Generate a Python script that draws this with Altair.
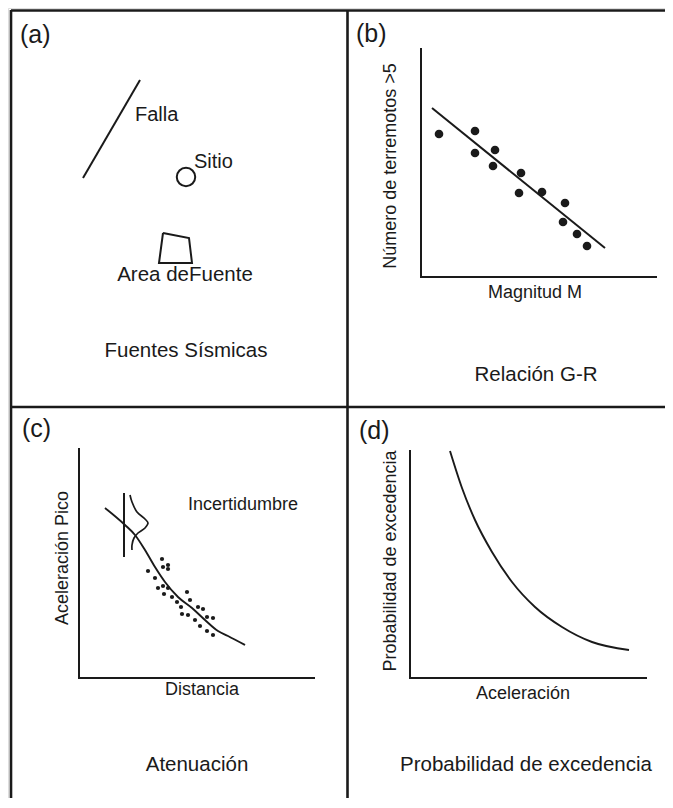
import altair as alt
import pandas as pd

FONT = "Liberation Sans"
INK = "#1a1a1a"

# ---------------- frame (figure units = pixels of the original figure) -------------
frame_x1 = [11, 11, 347.5, 11]
frame_x2 = [665, 11, 347.5, 665]
frame_y1 = [10.5, 10, 10, 407]
frame_y2 = [10.5, 800, 800, 407]

# ---------------- panel (a): seismic sources ----------------
falla_x = [83, 140]
falla_y = [178, 80]
area_x = [163, 189, 192, 159, 163]
area_y = [233, 238, 263, 263, 233]
sitio_x = [186]
sitio_y = [177]

# ---------------- panel (b): G-R relation ----------------
b_axis_x = [421, 421, 657]
b_axis_y = [48, 277, 277]
gr_fit_x = [432, 605]
gr_fit_y = [108, 248]
gr_pts_x = [439, 475, 475, 495, 493, 521, 519, 542, 565, 563, 577, 587]
gr_pts_y = [134, 131, 153, 150, 166, 173, 193, 192, 203, 222, 234, 246]

# ---------------- panel (c): attenuation ----------------
c_axis_x = [79, 79, 315]
c_axis_y = [448, 678, 678]
c_bar_x = [124, 124]
c_bar_y = [493, 557]
att_x = [105, 125, 135, 145, 155, 165, 178, 192, 205, 218, 228, 245]
att_y = [508, 525, 535, 550, 567, 582, 597, 608, 620, 631, 636, 645]
bell_x = [130, 132, 137, 145, 148, 145, 138, 134, 132, 132]
bell_y = [495, 502, 512, 519, 523, 528, 533, 538, 545, 550]
att_pts_x = [162, 163, 168, 168, 148, 155, 158, 163, 168, 164, 172, 187, 177,
             190, 181, 198, 203, 182, 188, 195, 207, 213, 200, 207, 213]
att_pts_y = [559, 567, 565, 569, 571, 578, 588, 586, 588, 594, 597, 592, 602,
             600, 607, 607, 609, 614, 615, 620, 617, 618, 626, 631, 635]

# ---------------- panel (d): exceedance probability ----------------
d_axis_x = [410, 410, 647]
d_axis_y = [450, 678, 678]
exc_x = [450, 462, 475, 492, 512, 535, 562, 592, 629]
exc_y = [451, 488, 520, 552, 582, 607, 627, 642, 650]

# ---------------- texts ----------------
lab_text = ["(a)", "(b)", "(c)", "(d)", "Falla", "Sitio"]
lab_x = [20, 356, 22, 359, 135, 194]
lab_y = [35, 34, 429, 431, 115, 162]
lab_size = [25, 25, 25, 25, 20, 20]

ctr_text = ["Area deFuente", "Fuentes Sísmicas", "Magnitud  M", "Relación G-R",
            "Distancia", "Incertidumbre", "Atenuación", "Aceleración",
            "Probabilidad de excedencia",
            "Número de terremotos >5", "Aceleración Pico", "Probabilidad de excedencia"]
ctr_x = [185, 186, 535, 536, 202, 243, 197, 523, 526, 391, 63, 391]
ctr_y = [275, 351, 293, 375, 690, 505, 765, 694, 765, 166, 558, 561]
ctr_size = [20.5, 20.5, 18, 20.5, 18, 18, 20.5, 18, 20.5, 18, 18, 18]
ctr_angle = [0, 0, 0, 0, 0, 0, 0, 0, 0, 270, 270, 270]

# ---------------- build tables ----------------
def poly(name, xs, ys):
    return pd.DataFrame({"id": name, "ord": range(len(xs)), "x": xs, "y": ys})

straight = pd.concat([
    poly("falla", falla_x, falla_y),
    poly("area", area_x, area_y),
    poly("b_axis", b_axis_x, b_axis_y),
    poly("gr_fit", gr_fit_x, gr_fit_y),
    poly("c_axis", c_axis_x, c_axis_y),
    poly("c_bar", c_bar_x, c_bar_y),
    poly("d_axis", d_axis_x, d_axis_y),
])
smooth = pd.concat([
    poly("att", att_x, att_y),
    poly("exc", exc_x, exc_y),
])
bell = poly("bell", bell_x, bell_y)
frame = pd.DataFrame({"x": frame_x1, "x2": frame_x2, "y": frame_y1, "y2": frame_y2})
sitio = pd.DataFrame({"x": sitio_x, "y": sitio_y})
gr_pts = pd.DataFrame({"x": gr_pts_x, "y": gr_pts_y})
att_pts = pd.DataFrame({"x": att_pts_x, "y": att_pts_y})
labels = pd.DataFrame({"x": lab_x, "y": lab_y, "t": lab_text, "s": lab_size})
centered = pd.DataFrame({"x": ctr_x, "y": ctr_y, "t": ctr_text, "s": ctr_size, "a": ctr_angle})

W, H = 657, 790
xs = alt.Scale(domain=[8, 8 + W], nice=False, zero=False)
ys = alt.Scale(domain=[8 + H, 8], nice=False, zero=False)
X = alt.X("x:Q", scale=xs, axis=None)
Y = alt.Y("y:Q", scale=ys, axis=None)

frame_layer = alt.Chart(frame).mark_rule(color=INK, strokeWidth=2.6).encode(
    x=X, x2="x2:Q", y=Y, y2="y2:Q")
straight_layer = alt.Chart(straight).mark_line(color=INK, strokeWidth=2).encode(
    x=X, y=Y, detail="id:N", order="ord:Q")
smooth_layer = alt.Chart(smooth).mark_line(color=INK, strokeWidth=1.9,
                                           interpolate="monotone").encode(
    x=X, y=Y, detail="id:N", order="ord:Q")
bell_layer = alt.Chart(bell).mark_line(color=INK, strokeWidth=1.7,
                                       interpolate="catmull-rom").encode(
    x=X, y=Y, order="ord:Q")
sitio_layer = alt.Chart(sitio).mark_point(shape="circle", size=340, filled=False,
                                          color=INK, strokeWidth=2, opacity=1).encode(x=X, y=Y)
gr_layer = alt.Chart(gr_pts).mark_circle(size=75, color=INK, opacity=1).encode(x=X, y=Y)
att_layer = alt.Chart(att_pts).mark_circle(size=18, color=INK, opacity=1).encode(x=X, y=Y)
lab_layer = alt.Chart(labels).mark_text(align="left", baseline="middle", font=FONT,
                                        color=INK).encode(
    x=X, y=Y, text="t:N", size=alt.Size("s:Q", scale=None))
ctr_layer = alt.Chart(centered).mark_text(align="center", baseline="middle", font=FONT,
                                          color=INK).encode(
    x=X, y=Y, text="t:N", size=alt.Size("s:Q", scale=None),
    angle=alt.Angle("a:Q", scale=None))

chart = alt.layer(frame_layer, straight_layer, smooth_layer, bell_layer, sitio_layer,
                  gr_layer, att_layer, lab_layer, ctr_layer).properties(
    width=W, height=H, padding=0,
    autosize=alt.AutoSizeParams(type="none"),
).configure_view(stroke=None).configure(background="white")

chart.save("out.html", embed_options={"renderer": "svg", "actions": False})
